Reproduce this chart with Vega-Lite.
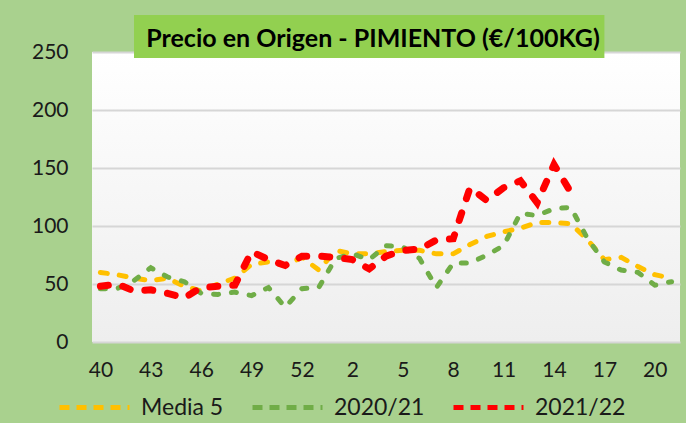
{
  "$schema": "https://vega.github.io/schema/vega-lite/v6.json",
  "width": 588,
  "height": 290,
  "autosize": "none",
  "padding": {"left": 92, "top": 52, "right": 6, "bottom": 81},
  "background": "#a9d18e",
  "title": {
    "text": "Precio en Origen - PIMIENTO (€/100KG)",
    "font": "Lato",
    "fontSize": 25,
    "fontWeight": "bold",
    "color": "#000000",
    "anchor": "middle",
    "dx": -13,
    "dy": 43,
    "offset": 6
  },
  "config": {
    "view": {
      "stroke": null,
      "fill": {"gradient": "linear", "x1": 0, "y1": 0, "x2": 0, "y2": 1,
        "stops": [{"offset": 0, "color": "#ffffff"}, {"offset": 1, "color": "#eeeeee"}]}
    },
    "axis": {"labelFont": "Lato", "labelFontSize": 21, "labelColor": "#1a1a1a"},
    "legend": {"labelFont": "Lato", "labelFontSize": 23, "labelColor": "#1a1a1a"}
  },
  "datasets": {
    "precios": [
      {"semana": 40, "serie": "Media 5", "precio": 60},
      {"semana": 41, "serie": "Media 5", "precio": 58},
      {"semana": 42, "serie": "Media 5", "precio": 55},
      {"semana": 43, "serie": "Media 5", "precio": 53},
      {"semana": 44, "serie": "Media 5", "precio": 55},
      {"semana": 45, "serie": "Media 5", "precio": 48},
      {"semana": 46, "serie": "Media 5", "precio": 44},
      {"semana": 47, "serie": "Media 5", "precio": 50},
      {"semana": 48, "serie": "Media 5", "precio": 55},
      {"semana": 49, "serie": "Media 5", "precio": 67},
      {"semana": 50, "serie": "Media 5", "precio": 69},
      {"semana": 51, "serie": "Media 5", "precio": 66},
      {"semana": 52, "serie": "Media 5", "precio": 73},
      {"semana": 53, "serie": "Media 5", "precio": 62},
      {"semana": 1, "serie": "Media 5", "precio": 79},
      {"semana": 2, "serie": "Media 5", "precio": 76},
      {"semana": 3, "serie": "Media 5", "precio": 76},
      {"semana": 4, "serie": "Media 5", "precio": 78},
      {"semana": 5, "serie": "Media 5", "precio": 79},
      {"semana": 6, "serie": "Media 5", "precio": 79},
      {"semana": 7, "serie": "Media 5", "precio": 76},
      {"semana": 8, "serie": "Media 5", "precio": 76},
      {"semana": 9, "serie": "Media 5", "precio": 84},
      {"semana": 10, "serie": "Media 5", "precio": 91},
      {"semana": 11, "serie": "Media 5", "precio": 95},
      {"semana": 12, "serie": "Media 5", "precio": 98},
      {"semana": 13, "serie": "Media 5", "precio": 103},
      {"semana": 14, "serie": "Media 5", "precio": 103},
      {"semana": 15, "serie": "Media 5", "precio": 102},
      {"semana": 16, "serie": "Media 5", "precio": 88},
      {"semana": 17, "serie": "Media 5", "precio": 71},
      {"semana": 18, "serie": "Media 5", "precio": 73},
      {"semana": 19, "serie": "Media 5", "precio": 65},
      {"semana": 20, "serie": "Media 5", "precio": 58},
      {"semana": 21, "serie": "Media 5", "precio": 55},
      {"semana": 40, "serie": "2020/21", "precio": 46},
      {"semana": 41, "serie": "2020/21", "precio": 46},
      {"semana": 42, "serie": "2020/21", "precio": 53},
      {"semana": 43, "serie": "2020/21", "precio": 64},
      {"semana": 44, "serie": "2020/21", "precio": 56},
      {"semana": 45, "serie": "2020/21", "precio": 52},
      {"semana": 46, "serie": "2020/21", "precio": 42},
      {"semana": 47, "serie": "2020/21", "precio": 41},
      {"semana": 48, "serie": "2020/21", "precio": 43},
      {"semana": 49, "serie": "2020/21", "precio": 40},
      {"semana": 50, "serie": "2020/21", "precio": 47},
      {"semana": 51, "serie": "2020/21", "precio": 30},
      {"semana": 52, "serie": "2020/21", "precio": 46},
      {"semana": 53, "serie": "2020/21", "precio": 47},
      {"semana": 1, "serie": "2020/21", "precio": 72},
      {"semana": 2, "serie": "2020/21", "precio": 76},
      {"semana": 3, "serie": "2020/21", "precio": 71},
      {"semana": 4, "serie": "2020/21", "precio": 83},
      {"semana": 5, "serie": "2020/21", "precio": 82},
      {"semana": 6, "serie": "2020/21", "precio": 72},
      {"semana": 7, "serie": "2020/21", "precio": 47},
      {"semana": 8, "serie": "2020/21", "precio": 68},
      {"semana": 9, "serie": "2020/21", "precio": 68},
      {"semana": 10, "serie": "2020/21", "precio": 75},
      {"semana": 11, "serie": "2020/21", "precio": 83},
      {"semana": 12, "serie": "2020/21", "precio": 111},
      {"semana": 13, "serie": "2020/21", "precio": 109},
      {"semana": 14, "serie": "2020/21", "precio": 115},
      {"semana": 15, "serie": "2020/21", "precio": 116},
      {"semana": 16, "serie": "2020/21", "precio": 89},
      {"semana": 17, "serie": "2020/21", "precio": 69},
      {"semana": 18, "serie": "2020/21", "precio": 62},
      {"semana": 19, "serie": "2020/21", "precio": 60},
      {"semana": 20, "serie": "2020/21", "precio": 49},
      {"semana": 21, "serie": "2020/21", "precio": 52},
      {"semana": 40, "serie": "2021/22", "precio": 48},
      {"semana": 41, "serie": "2021/22", "precio": 50},
      {"semana": 42, "serie": "2021/22", "precio": 44},
      {"semana": 43, "serie": "2021/22", "precio": 45},
      {"semana": 44, "serie": "2021/22", "precio": 42},
      {"semana": 45, "serie": "2021/22", "precio": 38},
      {"semana": 46, "serie": "2021/22", "precio": 47},
      {"semana": 47, "serie": "2021/22", "precio": 48},
      {"semana": 48, "serie": "2021/22", "precio": 49},
      {"semana": 49, "serie": "2021/22", "precio": 78},
      {"semana": 50, "serie": "2021/22", "precio": 71},
      {"semana": 51, "serie": "2021/22", "precio": 66},
      {"semana": 52, "serie": "2021/22", "precio": 74},
      {"semana": 53, "serie": "2021/22", "precio": 74},
      {"semana": 1, "serie": "2021/22", "precio": 73},
      {"semana": 2, "serie": "2021/22", "precio": 71},
      {"semana": 3, "serie": "2021/22", "precio": 63},
      {"semana": 4, "serie": "2021/22", "precio": 74},
      {"semana": 5, "serie": "2021/22", "precio": 79},
      {"semana": 6, "serie": "2021/22", "precio": 80},
      {"semana": 7, "serie": "2021/22", "precio": 88},
      {"semana": 8, "serie": "2021/22", "precio": 89},
      {"semana": 9, "serie": "2021/22", "precio": 133},
      {"semana": 10, "serie": "2021/22", "precio": 122},
      {"semana": 11, "serie": "2021/22", "precio": 133},
      {"semana": 12, "serie": "2021/22", "precio": 139},
      {"semana": 13, "serie": "2021/22", "precio": 120},
      {"semana": 14, "serie": "2021/22", "precio": 153},
      {"semana": 15, "serie": "2021/22", "precio": 129}
    ]
  },
  "data": {"name": "precios"},
  "encoding": {
    "x": {
      "field": "semana",
      "type": "ordinal",
      "sort": [40,41,42,43,44,45,46,47,48,49,50,51,52,53,1,2,3,4,5,6,7,8,9,10,11,12,13,14,15,16,17,18,19,20,21],
      "scale": {"type": "point", "padding": 0.5},
      "axis": {
        "title": null,
        "values": [40,43,46,49,52,2,5,8,11,14,17,20],
        "labelAngle": 0,
        "domain": false,
        "ticks": false,
        "grid": false,
        "labelPadding": 17
      }
    },
    "y": {
      "field": "precio",
      "type": "quantitative",
      "scale": {"domain": [0, 250]},
      "axis": {
        "title": null,
        "values": [0,50,100,150,200,250],
        "domain": false,
        "ticks": false,
        "tickSize": 0,
        "labelPadding": 24,
        "gridColor": "#d6d6d6",
        "gridWidth": 2
      }
    }
  },
  "layer": [
    {
      "transform": [{"filter": "datum.serie == 'Media 5' && datum.semana == 42"}],
      "mark": {"type": "rule", "color": "#92D050", "strokeWidth": 43, "strokeCap": "butt", "clip": false},
      "encoding": {
        "x2": {"datum": 17},
        "y": {"datum": 263.4}
      }
    },
    {
      "transform": [{"filter": "datum.serie == 'Media 5'"}],
      "mark": {"type": "line", "strokeWidth": 5, "strokeDash": [7, 12], "strokeCap": "round"},
      "encoding": {
        "color": {
          "field": "serie",
          "type": "nominal",
          "scale": {"domain": ["Media 5", "2020/21", "2021/22"], "range": ["#FFC000", "#70AD47", "#FF0000"]},
          "legend": {
            "title": null,
            "orient": "none",
            "direction": "horizontal",
            "legendX": -35,
            "legendY": 318,
            "symbolType": "stroke",
            "symbolSize": 4900,
            "symbolStrokeWidth": 5,
            "symbolDash": [10, 7],
            "labelOffset": 9,
            "columnPadding": 18,
            "gridAlign": "none"
          }
        }
      }
    },
    {
      "transform": [{"filter": "datum.serie == '2020/21'"}],
      "mark": {"type": "line", "strokeWidth": 5, "strokeDash": [5, 13], "strokeCap": "round"},
      "encoding": {"color": {"field": "serie", "type": "nominal"}}
    },
    {
      "transform": [{"filter": "datum.serie == '2021/22'"}],
      "mark": {"type": "line", "strokeWidth": 7, "strokeDash": [8, 15], "strokeCap": "round"},
      "encoding": {"color": {"field": "serie", "type": "nominal"}}
    }
  ]
}
